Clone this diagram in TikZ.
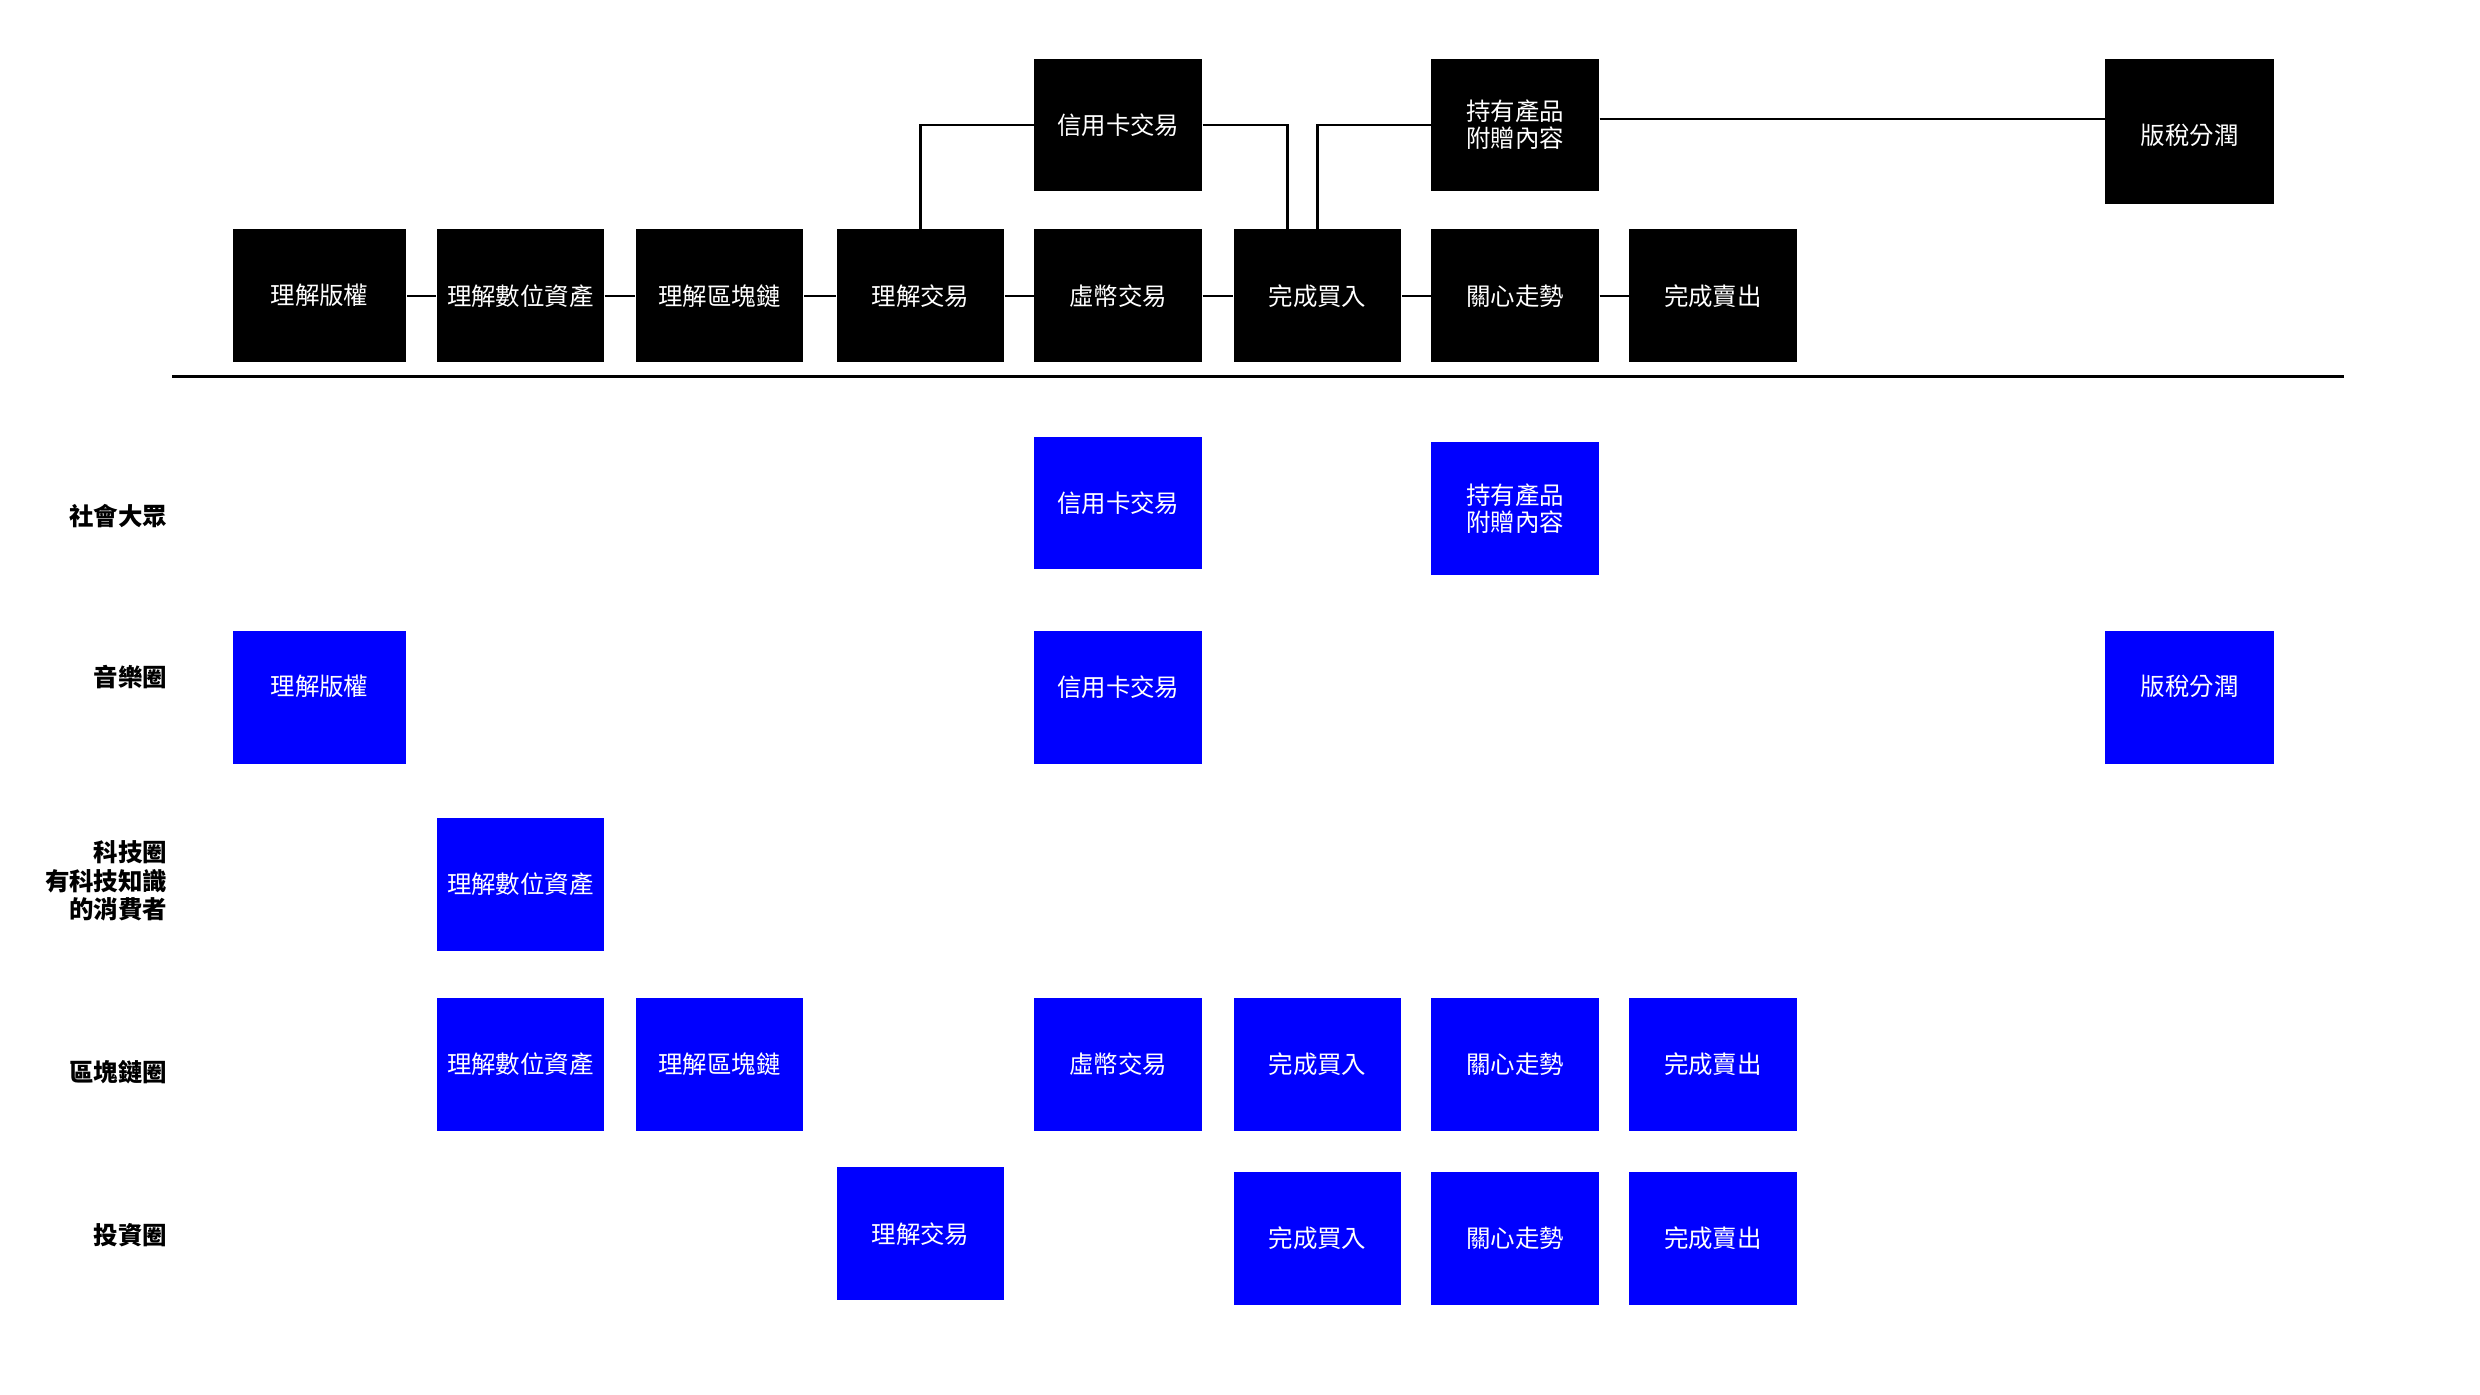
\documentclass[tikz,border=0pt]{standalone}
\usepackage{fontspec}
\newfontfamily\cjk{Noto Sans CJK TC}
\definecolor{vivid}{RGB}{0,0,255}
\begin{document}
\begin{tikzpicture}[x=0.02cm,y=-0.02cm,
    schwarz/.style={fill=black,text=white,minimum width=2.12cm,minimum height=1.68cm,inner sep=0pt,align=center,font=\cjk\fontsize{8.8}{9.7}\selectfont},
    blau/.style={schwarz,fill=vivid},
    gruppe/.style={anchor=east,align=right,font=\cjk\bfseries\fontsize{8.8}{10.2}\selectfont},
    linie/.style={line width=0.8pt}]
    \useasboundingbox (0,0) rectangle (1568,882);

    % Ablauf oben
    \node[schwarz,minimum width=2.2cm] (copyright) at (202,187) {理解版權};
    \node[schwarz] (digital) at (329,187) {理解數位資產};
    \node[schwarz] (chain) at (455,187) {理解區塊鏈};
    \node[schwarz] (trade) at (582,187) {理解交易};
    \node[schwarz] (coin) at (707,187) {虛幣交易};
    \node[schwarz] (buy) at (833,187) {完成買入};
    \node[schwarz] (trend) at (958,187) {關心走勢};
    \node[schwarz] (sell) at (1083,187) {完成賣出};

    \node[schwarz] (card) at (707,79) {信用卡交易};
    \node[schwarz] (gift) at (958,79) {持有產品\\附贈內容};
    \node[schwarz,minimum width=2.14cm,minimum height=1.84cm,text height=0.37cm] (royalty) at (1384.5,83) {版稅分潤};

    \draw[linie] (copyright) -- (digital);
    \draw[linie] (digital) -- (chain);
    \draw[linie] (chain) -- (trade);
    \draw[linie] (trade) -- (coin);
    \draw[linie] (coin) -- (buy);
    \draw[linie] (buy) -- (trend);
    \draw[linie] (trend) -- (sell);

    \draw[linie] (card.west) -| (trade.north);
    \draw[linie] (card.east) -| ([xshift=-0.38cm]buy.north);
    \draw[linie] (gift.west) -| (buy.north);
    \draw[linie] ([yshift=0.08cm]gift.east) -- ([yshift=0.08cm]gift.east -| royalty.west);

    \draw[line width=1.1pt] (109,238) -- (1482,238);

    % Zielgruppen
    \node[gruppe] (society) at (112,326) {社會大眾};
    \node[gruppe] (music) at (112,428) {音樂圈};
    \node[gruppe] (tech) at (112,557) {科技圈\\有科技知識\\的消費者};
    \node[gruppe] (block) at (112,678) {區塊鏈圈};
    \node[gruppe] (invest) at (112,781) {投資圈};

    \node[blau] (sCard) at (707,318) {信用卡交易};
    \node[blau] (sGift) at (958,321.5) {持有產品\\附贈內容};

    \node[blau,minimum width=2.2cm,text depth=0.3cm] (mCopy) at (202,441) {理解版權};
    \node[blau,text depth=0.3cm] (mCard) at (707,441) {信用卡交易};
    \node[blau,minimum width=2.14cm,text depth=0.3cm] (mRoyal) at (1384.5,441) {版稅分潤};

    \node[blau] (tDigital) at (329,559) {理解數位資產};

    \node[blau] (bDigital) at (329,673) {理解數位資產};
    \node[blau] (bChain) at (455,673) {理解區塊鏈};
    \node[blau] (bCoin) at (707,673) {虛幣交易};
    \node[blau] (bBuy) at (833,673) {完成買入};
    \node[blau] (bTrend) at (958,673) {關心走勢};
    \node[blau] (bSell) at (1083,673) {完成賣出};

    \node[blau] (iTrade) at (582,780) {理解交易};
    \node[blau] (iBuy) at (833,783) {完成買入};
    \node[blau] (iTrend) at (958,783) {關心走勢};
    \node[blau] (iSell) at (1083,783) {完成賣出};
\end{tikzpicture}
\end{document}
